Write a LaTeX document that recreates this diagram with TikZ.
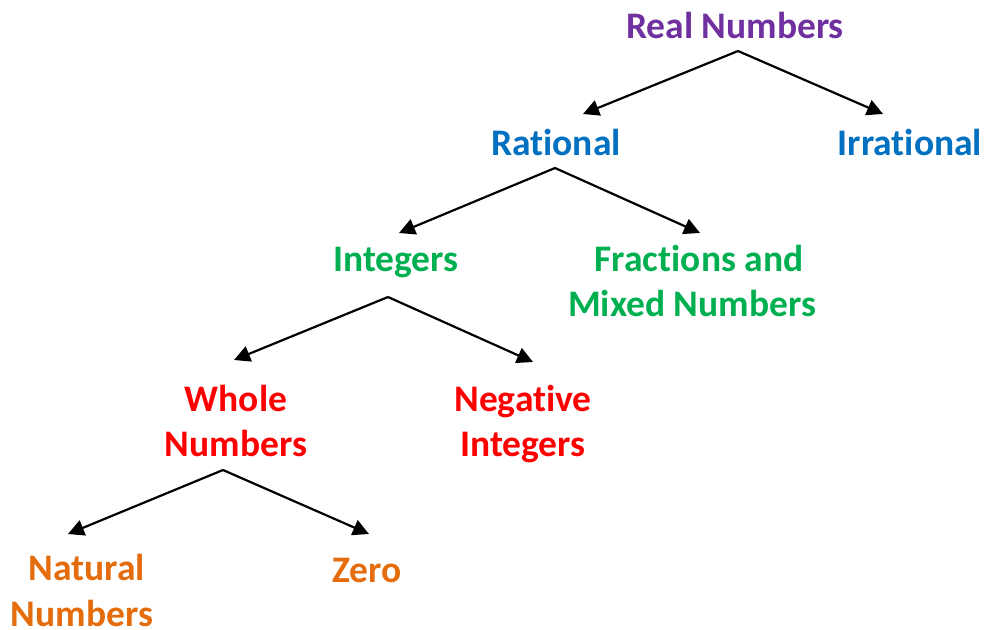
\documentclass[tikz,border=0pt]{standalone}
\usepackage{fontspec}
\setmainfont[Ligatures={NoCommon}]{Carlito}
\usetikzlibrary{arrows.meta}
\definecolor{cpurple}{HTML}{7030A0}
\definecolor{cblue}{HTML}{0070C0}
\definecolor{cgreen}{HTML}{00B050}
\definecolor{cred}{HTML}{FF0000}
\definecolor{corange}{HTML}{E46C0A}
\begin{document}
\begin{tikzpicture}[x=1pt,y=-1pt,
  lbl/.style={inner sep=0pt,anchor=base,align=center,font=\fontsize{37.5}{45.5}\selectfont\bfseries},
  arr/.style={line width=2.2pt,-{Triangle[length=16pt,width=16pt]}}]
\useasboundingbox (0,0) rectangle (984,629);
\node[lbl,text=cpurple] (real) at (735,38) {Real Numbers};
\node[lbl,text=cblue] (rational) at (556,155) {Rational};
\node[lbl,text=cblue] (irrational) at (910,155) {Irrational};
\node[lbl,text=cgreen] (integers) at (396,271) {Integers};
\node[lbl,text=cgreen] (fractions) at (692,316.5) {\hspace*{14pt}Fractions and\\Mixed Numbers};
\node[lbl,text=cred] (whole) at (236,456.5) {Whole\\Numbers};
\node[lbl,text=cred] (negative) at (523,456.5) {Negative\\Integers};
\node[lbl,text=corange] (natural) at (82,626) {\hspace*{10pt}Natural\\Numbers};
\node[lbl,text=corange] (zero) at (367,582) {Zero};
\draw[arr] ([shift={(3,13)}]real.base) -- ([shift={(27,-41)}]rational.base);
\draw[arr] ([shift={(3,13)}]real.base) -- ([shift={(-27,-41)}]irrational.base);
\draw[arr] ([shift={(-1,13)}]rational.base) -- ([shift={(3,-38)}]integers.base);
\draw[arr] ([shift={(-1,13)}]rational.base) -- ([shift={(8,-83.5)}]fractions.base);
\draw[arr] ([shift={(-8,26)}]integers.base) -- ([shift={(-2,-96.5)}]whole.base);
\draw[arr] ([shift={(-8,26)}]integers.base) -- ([shift={(10,-94.5)}]negative.base);
\draw[arr] ([shift={(-13,13.5)}]whole.base) -- ([shift={(-14,-92)}]natural.base);
\draw[arr] ([shift={(-13,13.5)}]whole.base) -- ([shift={(2,-48)}]zero.base);
\end{tikzpicture}
\end{document}
